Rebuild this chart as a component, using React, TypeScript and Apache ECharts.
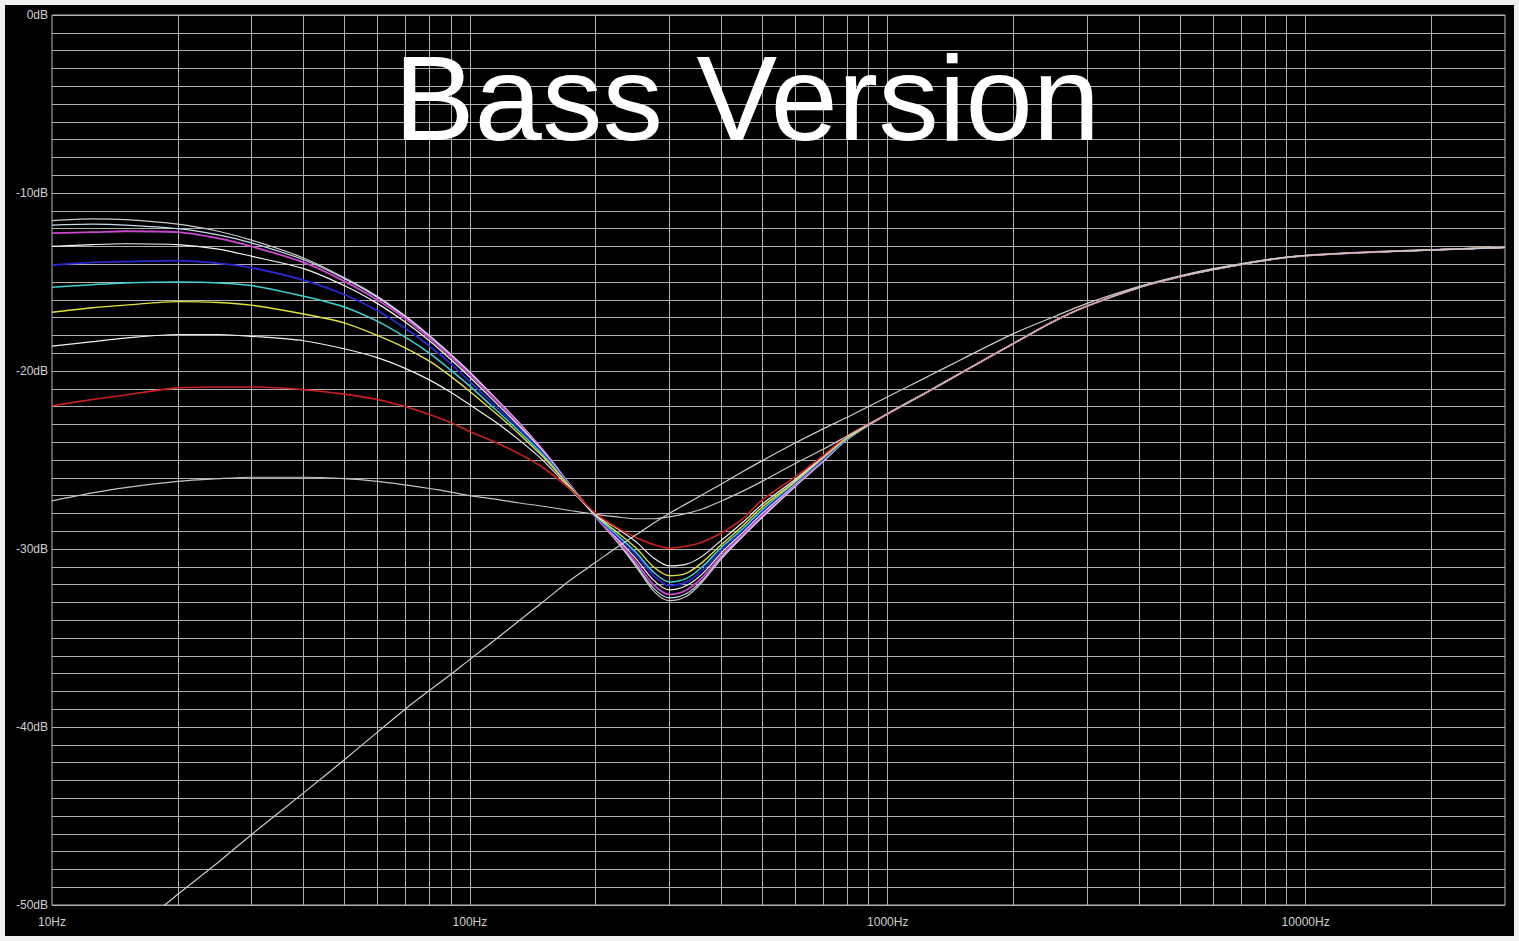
import React, { useEffect, useRef } from "react";
import * as echarts from "echarts";

// Frequency sample points (Hz)
const freqs = [10, 12.5, 15, 20, 25, 30, 40, 50, 60, 70, 80, 90, 100, 115, 130, 150, 175, 200, 225, 250, 275, 300, 330, 360, 400, 450, 500, 600, 700, 800, 1000, 1250, 1500, 2000, 2500, 3000, 4000, 5000, 6000, 8000, 10000, 15000, 20000, 30000];

// Shared high-frequency tail (1000 Hz .. 30 kHz) of the bass-sweep curves
const tail = [-22.4, -21.15, -20.1, -18.45, -17.2, -16.35, -15.3, -14.7, -14.3, -13.78, -13.52, -13.3, -13.2, -13.05];

// dB values per bass-sweep curve, 10 Hz .. 800 Hz
const c1 = [-11.55, -11.45, -11.5, -11.75, -12.15, -12.65, -13.65, -14.75, -15.8, -16.9, -18.0, -19.05, -20.05, -21.5, -22.8, -24.45, -26.5, -28.2, -29.6, -31.0, -32.35, -32.9, -32.65, -31.85, -30.55, -29.3, -28.25, -26.5, -25.1, -23.85];
const c2 = [-11.8, -11.75, -11.8, -12.0, -12.35, -12.8, -13.75, -14.8, -15.85, -16.95, -18.05, -19.1, -20.1, -21.55, -22.85, -24.5, -26.5, -28.2, -29.55, -30.9, -32.2, -32.75, -32.5, -31.75, -30.45, -29.25, -28.2, -26.45, -25.05, -23.85];
const c3 = [-12.25, -12.2, -12.15, -12.2, -12.55, -13.0, -13.9, -14.95, -16.0, -17.05, -18.15, -19.2, -20.2, -21.6, -22.9, -24.5, -26.5, -28.2, -29.5, -30.75, -32.0, -32.55, -32.3, -31.6, -30.35, -29.15, -28.1, -26.4, -25.0, -23.8];
const c4 = [-13.0, -12.9, -12.85, -12.9, -13.15, -13.55, -14.25, -15.2, -16.2, -17.25, -18.3, -19.35, -20.35, -21.75, -23.0, -24.55, -26.5, -28.15, -29.4, -30.55, -31.75, -32.3, -32.05, -31.4, -30.2, -29.05, -28.0, -26.35, -24.95, -23.8];
const c5 = [-14.05, -13.9, -13.85, -13.8, -13.95, -14.2, -14.9, -15.7, -16.6, -17.6, -18.6, -19.6, -20.6, -21.95, -23.15, -24.65, -26.55, -28.15, -29.3, -30.35, -31.5, -32.05, -31.85, -31.2, -30.05, -28.95, -27.9, -26.3, -24.95, -23.8];
const c6 = [-15.3, -15.15, -15.05, -15.0, -15.05, -15.2, -15.8, -16.4, -17.2, -18.1, -19.0, -19.95, -20.85, -22.15, -23.3, -24.75, -26.6, -28.15, -29.2, -30.2, -31.3, -31.85, -31.65, -31.0, -29.9, -28.85, -27.8, -26.25, -24.9, -23.8];
const c7 = [-16.7, -16.45, -16.3, -16.1, -16.15, -16.3, -16.8, -17.3, -18.0, -18.7, -19.45, -20.3, -21.15, -22.35, -23.45, -24.85, -26.6, -28.1, -29.05, -29.95, -31.0, -31.5, -31.35, -30.75, -29.75, -28.7, -27.65, -26.2, -24.85, -23.75];
const c8 = [-18.6, -18.35, -18.15, -17.95, -17.95, -18.05, -18.3, -18.75, -19.25, -19.85, -20.5, -21.2, -21.9, -22.85, -23.8, -25.05, -26.7, -28.1, -28.85, -29.6, -30.5, -30.95, -30.85, -30.4, -29.5, -28.5, -27.5, -26.1, -24.8, -23.7];
const c9 = [-21.95, -21.6, -21.35, -20.95, -20.9, -20.9, -21.05, -21.3, -21.6, -22.0, -22.45, -22.9, -23.4, -24.0, -24.6, -25.45, -26.7, -28.0, -28.8, -29.35, -29.75, -29.95, -29.85, -29.6, -29.1, -28.3, -27.25, -25.95, -24.75, -23.65];
const c10 = [-27.3, -26.85, -26.55, -26.2, -26.05, -25.97, -25.97, -26.05, -26.2, -26.4, -26.6, -26.8, -27.0, -27.2, -27.4, -27.6, -27.85, -28.05, -28.2, -28.3, -28.3, -28.2, -28.0, -27.75, -27.3, -26.75, -26.2, -25.2, -24.4, -23.65];
// Treble-only response (full range, 10 Hz .. 30 kHz)
const c11 = [-55.1, -53.3, -51.8, -49.4, -47.6, -46.05, -43.7, -41.85, -40.3, -39.0, -37.95, -37.05, -36.2, -35.1, -34.1, -32.95, -31.7, -30.75, -29.9, -29.2, -28.55, -28.0, -27.45, -26.95, -26.35, -25.65, -25.05, -24.05, -23.25, -22.6, -21.45, -20.3, -19.35, -17.9, -16.95, -16.2, -15.25, -14.65, -14.25, -13.75, -13.5, -13.3, -13.2, -13.05];

const curveColors = ["#c8c8c8", "#c8d8ee", "#cc48d0", "#f4f4f4", "#2828d0", "#40d0d0", "#e0e040", "#f0f0f0", "#cc2020", "#c4c4c4", "#cccccc"];
const curveWidths = [1.2, 1.2, 1.8, 1.2, 1.8, 1.5, 1.4, 1.2, 1.6, 1.2, 1.2];

// Vertical log grid positions (Hz)
const vGrid = [20, 30, 40, 50, 60, 70, 80, 90, 100, 200, 300, 400, 500, 600, 700, 800, 900, 1000, 2000, 3000, 4000, 5000, 6000, 7000, 8000, 9000, 10000, 20000];

const title = "Bass Version";

export default function App() {
  const ref = useRef<HTMLDivElement>(null);
  useEffect(() => {
    if (!ref.current) return;
    const chart = echarts.init(ref.current, null, { renderer: "svg" });
    const curves = [c1, c2, c3, c4, c5, c6, c7, c8, c9, c10].map((arr) => arr.concat(tail));
    curves.push(c11);
    const series: any[] = curves.map((vals, i) => ({
      type: "line",
      name: "c" + (i + 1),
      data: freqs.map((f, j) => [f, vals[j]]),
      showSymbol: false,
      smooth: 0.3,
      z: 3,
      lineStyle: { color: curveColors[i], width: curveWidths[i] },
      clip: true,
    }));
    series.unshift({
      type: "line",
      name: "grid",
      data: [[10, -60]],
      showSymbol: false,
      lineStyle: { opacity: 0 },
      z: 1,
      markLine: {
        silent: true,
        z: 1,
        symbol: "none",
        label: { show: false },
        lineStyle: { color: "#b0b0b0", width: 1, type: "solid" },
        data: vGrid.map((v) => ({ xAxis: v })),
      },
    });
    chart.setOption({
      animation: false,
      backgroundColor: "#000",
      grid: {
        left: 52,
        right: 14,
        top: 15,
        bottom: 36,
        show: true,
        borderColor: "#b8b8b8",
        borderWidth: 1,
        backgroundColor: "transparent",
      },
      xAxis: {
        type: "log",
        logBase: 10,
        min: 10,
        max: 30000,
        axisLine: { show: false },
        axisTick: { show: false },
        splitLine: { show: false },
        axisLabel: {
          color: "#d0d0d0",
          fontSize: 12,
          fontFamily: "Liberation Sans, Arial, sans-serif",
          margin: 11,
          showMaxLabel: false,
          formatter: (v: number) => {
            const l = Math.log10(v);
            return Math.abs(l - Math.round(l)) < 1e-6 ? Math.round(v) + "Hz" : "";
          },
        },
      },
      yAxis: {
        type: "value",
        min: -50,
        max: 0,
        interval: 10,
        axisLine: { show: false },
        axisTick: { show: false },
        splitLine: { show: true, lineStyle: { color: "#b0b0b0", width: 1 } },
        minorTick: { show: false, splitNumber: 10 },
        minorSplitLine: { show: true, lineStyle: { color: "#b0b0b0", width: 1 } },
        axisLabel: {
          color: "#d0d0d0",
          fontSize: 12,
          fontFamily: "Liberation Sans, Arial, sans-serif",
          margin: 4,
          formatter: (v: number) => v + "dB",
        },
      },
      graphic: [
        {
          type: "text",
          x: 747,
          y: 98,
          z: 10,
          style: {
            text: title,
            fill: "#ffffff",
            font: "121px 'Liberation Sans', Arial, sans-serif",
            align: "center",
            verticalAlign: "middle",
          },
        },
        {
          type: "rect",
          z: 20,
          shape: { x: 0, y: 0, width: 1519, height: 941 },
          style: { fill: "none", stroke: "#f0f0f0", lineWidth: 10 },
        },
      ],
      series,
    });
    return () => chart.dispose();
  }, []);
  return (
    <div
      ref={ref}
      style={{ position: "fixed", left: 0, top: 0, width: 1519, height: 941 }}
    />
  );
}
